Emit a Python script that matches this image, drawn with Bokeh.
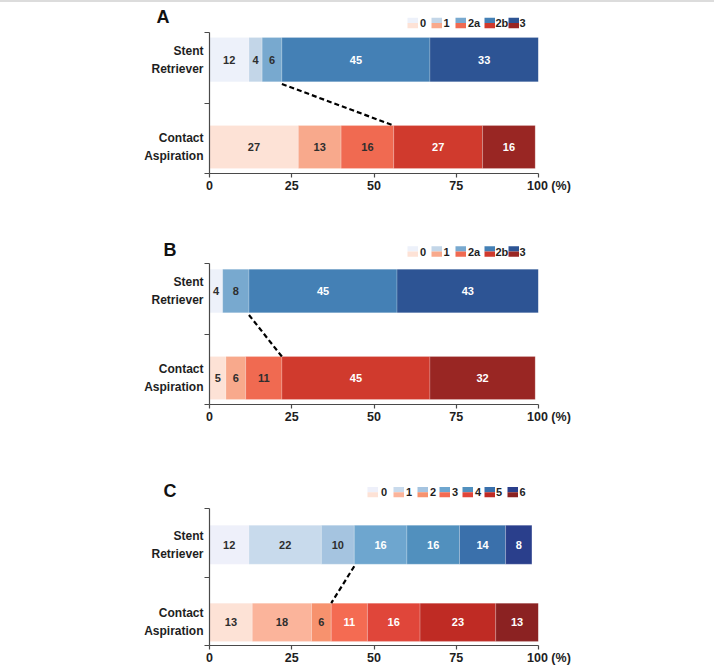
from bokeh.plotting import figure
from bokeh.models import Range1d, LinearAxis, FixedTicker
from bokeh.layouts import column, row
from bokeh.core.properties import value
from bokeh.embed import file_html
from bokeh.resources import INLINE

# ---- data -------------------------------------------------------------
ROW_LABELS = ["Stent\nRetriever", "Contact\nAspiration"]
x_ticks = [0, 25, 50, 75, 100]
x_tick_labels = ["0", "25", "50", "75", "100 (%)"]

# Panel A: reperfusion grade after first pass (%)
grades_a = ["0", "1", "2a", "2b", "3"]
stent_a = [12, 4, 6, 45, 33]
contact_a = [27, 13, 16, 27, 16]

# Panel B: final reperfusion grade (%)
grades_b = ["0", "1", "2a", "2b", "3"]
stent_b = [4, 0, 8, 45, 43]
contact_b = [5, 6, 11, 45, 32]

# Panel C: functional outcome score (%)
grades_c = ["0", "1", "2", "3", "4", "5", "6"]
stent_c = [12, 22, 10, 16, 16, 14, 8]
contact_c = [13, 18, 6, 11, 16, 23, 13]

# ---- palettes ---------------------------------------------------------
BLUES5 = ["#edf1fa", "#c3d6e8", "#78a9cf", "#4480b5", "#2d5494"]
REDS5 = ["#fde2d6", "#f8a98c", "#f06a51", "#d03a2d", "#992623"]
BLUES7 = ["#eef0fa", "#c8daec", "#a5c4e0", "#6ea6cf", "#5190be", "#3a70ab", "#2a3f8c"]
REDS7 = ["#fde2d6", "#fbb49b", "#f7926e", "#f46b52", "#e0463a", "#bf2b24", "#8b2222"]

FONT = value("Liberation Sans")
DARK = "#2e2e2e"
INK = "#1e1e1e"
AXIS = "#4a4a4a"

LEFT_W = 204          # width of the label strip on the left
TICK_W = 5            # room for the y tick marks
FRAME_LEFT = LEFT_W + TICK_W
FRAME_W = 329
RIGHT_BORDER = 714 - FRAME_LEFT - FRAME_W
PX_PER_PCT = FRAME_W / 100.0
FIG_SPACE = "\u2007"  # digit-wide space used to keep "100" centred on its tick


def px_to_pct(px):
    return (px - FRAME_LEFT) / PX_PER_PCT


def make_panel(letter, grades, stent, contact, blues, reds, spec):
    h = spec["height"]
    bottom = spec["border_bottom"]
    unit = spec["unit"]
    frame_h = h - bottom
    frame_bottom_page = spec["top"] + frame_h
    y_range = Range1d(0, frame_h / unit)

    def y_of(page_y):
        return (frame_bottom_page - page_y) / unit

    s_lo, s_hi = spec["stent_bar"]
    c_lo, c_hi = spec["contact_bar"]

    # ---- left strip: panel letter and row names ----
    lf = figure(width=LEFT_W, height=h, x_range=Range1d(0, LEFT_W), y_range=y_range,
                output_backend="svg", toolbar_location=None,
                x_axis_type=None, y_axis_type=None,
                min_border_left=0, min_border_right=0, min_border_top=0,
                min_border_bottom=bottom)
    lf.outline_line_color = None
    lf.grid.visible = False
    lf.text(x=[spec["title_x"]], y=[y_of(spec["title_y"])], text=[letter],
            text_color="#111111", text_font=FONT, text_font_style="bold",
            text_font_size="18px", text_align="left", text_baseline="middle")
    lf.text(x=[LEFT_W - 1] * 2, y=[(s_lo + s_hi) / 2, (c_lo + c_hi) / 2], text=ROW_LABELS,
            text_color=INK, text_font=FONT, text_font_style="bold",
            text_font_size="12px", text_align="right", text_baseline="middle",
            text_line_height=1.3)

    # ---- chart ----
    p = figure(width=714 - LEFT_W, height=h, x_range=Range1d(0, 100), y_range=y_range,
               output_backend="svg", toolbar_location=None, y_axis_type=None,
               min_border_left=TICK_W, min_border_right=RIGHT_BORDER,
               min_border_top=0, min_border_bottom=bottom)
    p.outline_line_color = None
    p.grid.visible = False

    xa = p.xaxis[0]
    xa.ticker = FixedTicker(ticks=x_ticks)
    xa.bounds = (0, 100)
    overrides = {t: lab for t, lab in zip(x_ticks, x_tick_labels)}
    overrides[100] = FIG_SPACE * 3 + x_tick_labels[-1]
    xa.major_label_overrides = overrides
    xa.axis_line_color = AXIS
    xa.axis_line_width = 1.2
    xa.major_tick_line_color = AXIS
    xa.major_tick_line_width = 1.2
    xa.major_tick_in = 0
    xa.major_tick_out = 4
    xa.minor_tick_line_color = None
    xa.major_label_standoff = 1
    xa.major_label_text_font = "Liberation Sans"
    xa.major_label_text_font_style = "bold"
    xa.major_label_text_font_size = "12.5px"
    xa.major_label_text_color = INK

    ya = LinearAxis(ticker=FixedTicker(ticks=[0, 1, 2]), bounds=(0, 2),
                    major_label_overrides={0: "", 1: "", 2: ""})
    ya.axis_line_color = AXIS
    ya.axis_line_width = 1.2
    ya.major_tick_line_color = AXIS
    ya.major_tick_line_width = 1.2
    ya.major_tick_in = 0
    ya.major_tick_out = TICK_W
    ya.minor_tick_line_color = None
    ya.major_label_standoff = 0
    p.add_layout(ya, "left")

    # stacked bars with their values
    for vals, cols, lo, hi in ((stent, blues, s_lo, s_hi), (contact, reds, c_lo, c_hi)):
        lefts, rights = [], []
        acc = 0
        for v in vals:
            lefts.append(acc)
            acc += v
            rights.append(acc)
        p.quad(left=lefts, right=rights, bottom=lo, top=hi, fill_color=cols,
               line_color="white", line_width=0.4, line_alpha=0.5)
        xs, txt, tcol = [], [], []
        for i, v in enumerate(vals):
            if v <= 0:
                continue
            xs.append((lefts[i] + rights[i]) / 2)
            txt.append(str(v))
            tcol.append("white" if i >= 3 else DARK)
        p.text(x=xs, y=[(lo + hi) / 2] * len(xs), text=txt, text_color=tcol,
               text_font=FONT, text_font_style="bold", text_font_size="11px",
               text_align="center", text_baseline="middle")

    # dashed link between the cumulative share of the first three grades
    p.line(x=[sum(stent[:3]), sum(contact[:3])], y=[s_lo - 0.03, c_hi],
           line_color="black", line_width=2.2, line_dash="5 3")

    # legend: half-blue / half-red swatches
    ly = y_of(spec["legend_y"])
    half = 5.2 / unit
    sw = 10.5 / PX_PER_PCT
    for i in range(len(grades)):
        x0 = px_to_pct(spec["legend_sq"][i])
        p.quad(left=[x0], right=[x0 + sw], bottom=[ly], top=[ly + half],
               fill_color=blues[i], line_color=None)
        p.quad(left=[x0], right=[x0 + sw], bottom=[ly - half], top=[ly],
               fill_color=reds[i], line_color=None)
    p.text(x=[px_to_pct(v) for v in spec["legend_lab"]], y=[ly] * len(grades), text=grades,
           text_color=INK, text_font=FONT, text_font_style="bold",
           text_font_size="11px", text_align="left", text_baseline="middle")

    return row(lf, p, spacing=0)


LEG5_SQ = [407, 431, 455, 484, 508]
LEG5_LAB = [419.5, 443, 467.5, 495, 519]
LEG7_SQ = [367, 393, 417, 439, 462, 484, 507]
LEG7_LAB = [380.5, 405.5, 429.5, 451.5, 474.5, 495.5, 519]

spec_a = dict(top=2, height=228, border_bottom=57, unit=70.5,
              stent_bar=(1.30, 1.93), contact_bar=(0.07, 0.68),
              legend_y=22.5, legend_sq=LEG5_SQ, legend_lab=LEG5_LAB,
              title_x=156, title_y=16.5)
spec_b = dict(top=230, height=240, border_bottom=66, unit=70.5,
              stent_bar=(1.30, 1.92), contact_bar=(0.07, 0.68),
              legend_y=251, legend_sq=LEG5_SQ, legend_lab=LEG5_LAB,
              title_x=163, title_y=249)
spec_c = dict(top=470, height=197, border_bottom=19, unit=69.5,
              stent_bar=(1.19, 1.76), contact_bar=(0.06, 0.62),
              legend_y=492, legend_sq=LEG7_SQ, legend_lab=LEG7_LAB,
              title_x=163, title_y=491)

panel_a = make_panel("A", grades_a, stent_a, contact_a, BLUES5, REDS5, spec_a)
panel_b = make_panel("B", grades_b, stent_b, contact_b, BLUES5, REDS5, spec_b)
panel_c = make_panel("C", grades_c, stent_c, contact_c, BLUES7, REDS7, spec_c)

page = column(panel_a, panel_b, panel_c, spacing=0,
              styles={"border-top": "2px solid #dcdcdc"})

open("out.html", "w").write(file_html(page, INLINE))
